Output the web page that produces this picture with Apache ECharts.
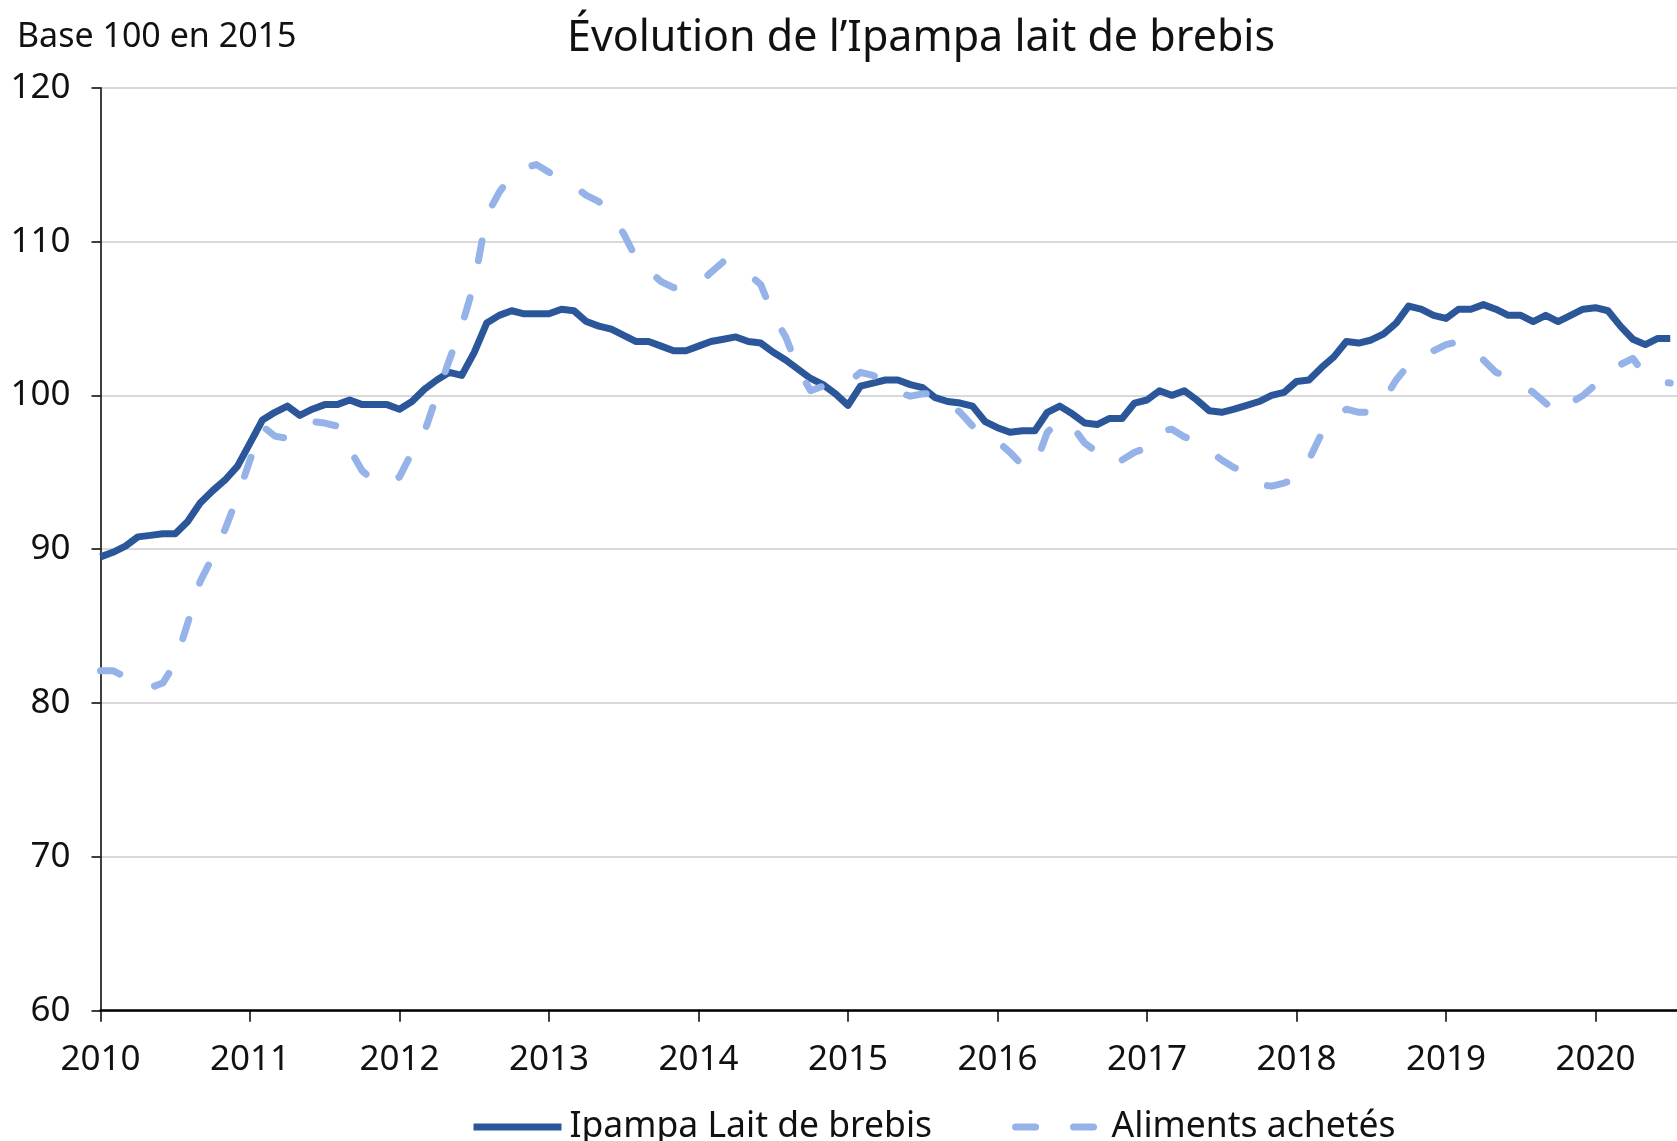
<!DOCTYPE html>
<html>
<head>
<meta charset="utf-8">
<script src="https://cdn.jsdelivr.net/npm/echarts@6/dist/echarts.min.js"></script>
<style>
  html, body { margin: 0; padding: 0; background: #fff; }
  #line-chart { width: 1677px; height: 1141px; }
</style>
</head>
<body>
<div id="line-chart"></div>
<script>
var startYear = 2010;

// monthly index, jan 2010 -> jul 2020
var ipampaLait = [
    89.5, 89.8, 90.2, 90.8, 90.9, 91.0, 91.0, 91.8, 93.0, 93.8, 94.5, 95.4,
    96.9, 98.4, 98.9, 99.3, 98.7, 99.1, 99.4, 99.4, 99.7, 99.4, 99.4, 99.4,
    99.1, 99.6, 100.4, 101.0, 101.5, 101.3, 102.8, 104.7, 105.2, 105.5, 105.3, 105.3,
    105.3, 105.6, 105.5, 104.8, 104.5, 104.3, 103.9, 103.5, 103.5, 103.2, 102.9, 102.9,
    103.2, 103.5, 103.65, 103.8, 103.5, 103.4, 102.8, 102.3, 101.7, 101.1, 100.7, 100.1,
    99.35, 100.6, 100.8, 101.0, 101.0, 100.7, 100.5, 99.85, 99.6, 99.5, 99.3, 98.3,
    97.9, 97.6, 97.7, 97.7, 98.9, 99.3, 98.8, 98.2, 98.1, 98.5, 98.5, 99.5,
    99.7, 100.3, 100.0, 100.3, 99.7, 99.0, 98.9, 99.1, 99.35, 99.6, 100.0, 100.2,
    100.9, 101.0, 101.8, 102.5, 103.5, 103.4, 103.6, 104.0, 104.7, 105.8, 105.6, 105.2,
    105.0, 105.6, 105.6, 105.9, 105.6, 105.2, 105.2, 104.8, 105.2, 104.8, 105.2, 105.6,
    105.7, 105.5, 104.5, 103.65, 103.3, 103.7, 103.7
];

var alimentsAchetes = [
    82.1, 82.1, 81.7, 81.3, 81.0, 81.3, 82.6, 85.2, 87.9, 89.5, 91.3, 93.4,
    95.8, 98.0, 97.35, 97.2, 97.9, 98.3, 98.2, 98.0, 96.5, 95.1, 94.4, 94.2,
    94.7, 96.3, 97.6, 100.0, 102.3, 104.5, 107.3, 111.7, 113.2, 114.3, 114.8, 115.0,
    114.5, 114.0, 113.6, 113.0, 112.6, 111.7, 110.5, 108.9, 108.1, 107.4, 107.0, 107.1,
    107.2, 108.0, 108.7, 108.4, 107.9, 107.2, 105.2, 103.8, 101.7, 100.3, 100.6, 100.7,
    100.8, 101.5, 101.3, 100.9, 100.2, 99.95, 100.1, 100.1, 99.5, 98.9, 98.0, 97.6,
    97.0, 96.3, 95.45, 95.4, 97.6, 98.4, 98.0, 96.9, 96.3, 95.5, 95.8, 96.3,
    96.6, 97.7, 97.8, 97.3, 97.0, 96.4, 95.8, 95.3, 95.0, 94.2, 94.1, 94.3,
    94.6, 95.8, 97.5, 98.5, 99.1, 98.9, 98.9, 99.7, 101.0, 102.0, 102.4, 102.9,
    103.3, 103.5, 103.15, 102.3, 101.5, 101.2, 100.7, 100.2, 99.5, 98.8, 99.5, 100.0,
    100.7, 101.5, 102.0, 102.4, 101.3, 100.9, 100.8
];

var seriesNames = ['Ipampa Lait de brebis', 'Aliments achetés'];

var months = ipampaLait.map(function (v, i) {
    var y = startYear + Math.floor(i / 12);
    var m = (i % 12) + 1;
    return y + '-' + (m < 10 ? '0' + m : m);
});

function toPoints(values) {
    return values.map(function (v, i) {
        var parts = months[i].split('-');
        return [+parts[0] + (parts[1] - 1) / 12, v];
    });
}

var fontName = 'Noto Sans';
var chart = echarts.init(document.getElementById('line-chart'));

var option = {
    animation: false,
    backgroundColor: '#ffffff',
    title: [{
        text: 'Évolution de l’Ipampa lait de brebis',
        left: 567,
        top: 17,
        padding: 0,
        textStyle: { fontFamily: fontName, fontSize: 43, fontWeight: 'normal', color: '#111' }
    }, {
        text: 'Base 100 en 2015',
        left: 17,
        top: 20,
        padding: 0,
        textStyle: { fontFamily: fontName, fontSize: 34, fontWeight: 'normal', color: '#111' }
    }],
    legend: {
        left: 470,
        top: 1109,
        padding: 0,
        itemWidth: 88,
        itemHeight: 16,
        itemGap: 80,
        data: seriesNames,
        itemStyle: { opacity: 0 },
        lineStyle: { width: 7 },
        textStyle: { fontFamily: fontName, fontSize: 35.5, color: '#111', padding: [0, 0, 0, 3] }
    },
    grid: {
        left: 100.5,
        top: 87.7,
        height: 923,
        width: 1644.5,
        outerBoundsMode: 'none',
        containLabel: false
    },
    xAxis: {
        type: 'value',
        min: 2010,
        max: 2021,
        interval: 1,
        axisLine: { lineStyle: { color: '#000', width: 2.5 } },
        axisTick: { show: true, length: 11, lineStyle: { color: '#000', width: 1.5 } },
        axisLabel: {
            margin: 32,
            fontFamily: fontName,
            fontSize: 35,
            color: '#111',
            formatter: function (v) { return String(v); }
        },
        splitLine: { show: false }
    },
    yAxis: {
        type: 'value',
        min: 60,
        max: 120,
        interval: 10,
        axisLine: { show: true, lineStyle: { color: '#000', width: 1.5 } },
        axisTick: { show: true, length: 9, lineStyle: { color: '#000', width: 1.5 } },
        axisLabel: { margin: 30, fontFamily: fontName, fontSize: 35, color: '#111' },
        splitLine: { lineStyle: { color: '#d9d9d9', width: 2 } }
    },
    series: [{
        name: seriesNames[0],
        type: 'line',
        symbol: 'none',
        data: toPoints(ipampaLait),
        color: '#2b579a',
        lineStyle: { color: '#2b579a', width: 7, join: 'round' }
    }, {
        name: seriesNames[1],
        type: 'line',
        symbol: 'none',
        data: toPoints(alimentsAchetes),
        color: '#95b3e8',
        lineStyle: { color: '#95b3e8', width: 7, type: [20, 38], cap: 'round', join: 'round' }
    }]
};

chart.setOption(option);
</script>
</body>
</html>
